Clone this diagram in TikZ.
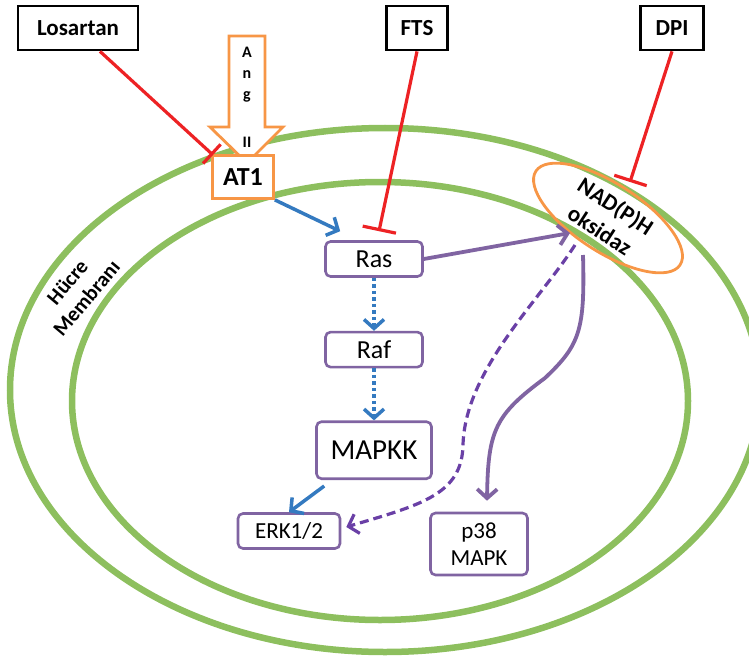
\documentclass[tikz,border=0pt]{standalone}
\usepackage{fontspec}
\setmainfont{Carlito}
\usepackage{xcolor}
\usepackage{tikz}
\usetikzlibrary{positioning, arrows.meta, shapes.geometric}

\definecolor{membgreen}{RGB}{141,191,94}
\definecolor{orng}{RGB}{247,150,70}
\definecolor{prpl}{RGB}{128,100,162}
\definecolor{dprpl}{RGB}{106,64,166}
\definecolor{blu}{RGB}{52,122,192}
\definecolor{inhred}{RGB}{237,34,36}

\begin{document}
\begin{tikzpicture}[
    x=1pt, y=-1pt,
    drug/.style={rectangle, draw, line width=2.8pt, minimum height=44pt, inner sep=2pt, font=\bfseries\fontsize{23}{26}\selectfont},
    receptor/.style={rectangle, draw=orng, fill=white, line width=2.8pt, minimum width=61pt, minimum height=43pt, font=\bfseries\fontsize{26}{30}\selectfont},
    protein/.style={rectangle, rounded corners=5pt, draw=prpl, line width=2.6pt, fill=white, minimum width=97pt, minimum height=35pt, inner sep=1pt, font=\fontsize{26}{30}\selectfont},
    membrane/.style={draw=membgreen, line width=6.5pt},
    inhibit/.style={draw=inhred, line width=3.2pt, -{Bar[width=34pt]}},
    bluearrow/.style={draw=blu, line width=3.5pt, -{Straight Barb[length=9pt,width=20pt]}},
    bluedotted/.style={bluearrow, dash pattern=on 3.5pt off 3pt},
    purplearrow/.style={draw=prpl, line width=3.8pt, -{Straight Barb[length=9pt,width=20pt]}},
    purpledashed/.style={draw=dprpl, line width=3.2pt, dash pattern=on 9pt off 5pt, -{Straight Barb[length=9pt,width=20pt]}}
]
\useasboundingbox (0,0) rectangle (749,658);

% Cell membrane
\draw[membrane] (385,390) ellipse [x radius=375pt, y radius=262pt];
\draw[membrane] (380,401) ellipse [x radius=308pt, y radius=219pt];
\node[rotate=50, align=center, font=\bfseries\fontsize{21}{25}\selectfont] (memb) at (77,290) {Hücre\\Membranı};

% Inhibitors
\node[drug, minimum width=120pt] (losartan) at (78,28) {Losartan};
\node[drug, minimum width=61pt] (fts) at (417,28) {FTS};
\node[drug, minimum width=63pt] (dpi) at (672,28) {DPI};

% Ang II and its receptor
\draw[draw=orng, line width=2.8pt, fill=white] (229,36) -- (265,36) -- (265,127) -- (283,127) -- (247,163) -- (210,127) -- (229,127) -- cycle;
\node[align=center, font=\bfseries\fontsize{16}{21}\selectfont] (angii) at (247,97) {A\\n\\g\\[27pt]II};
\node[receptor] (at1) at (243,177) {AT1};

% Signalling proteins
\node[protein] (ras) at (374,259) {Ras};
\node[protein, below=53pt of ras] (raf) {Raf};
\node[protein, below=52pt of raf, minimum width=115pt, minimum height=57pt, font=\fontsize{29}{32}\selectfont] (mapkk) {MAPKK};
\node[protein, minimum width=102pt, font=\fontsize{23}{26}\selectfont] (erk) at (289,531) {ERK1/2};
\node[protein, minimum height=62pt, align=center, font=\fontsize{23}{27}\selectfont] (p38) at (479,544) {p38\\MAPK};

% NAD(P)H oxidase
\node[ellipse, draw=orng, line width=2.8pt, rotate=-33, minimum width=172pt, minimum height=68pt, inner sep=0pt, align=center, font=\bfseries\fontsize{23}{29}\selectfont] (nadph) at (608,218) {NAD(P)H\\oksidaz};
\coordinate (nadin) at (570,233);
\coordinate (nadout1) at (575,245);
\coordinate (nadout2) at (583,255);

% Inhibition lines
\coordinate (losbar) at (213,155);
\coordinate (dpibar) at (630,182);
\draw[inhibit, -{Bar[width=26pt]}] ([xshift=22pt]losartan.south) -- (losbar);
\draw[inhibit] (fts.south) -- ([xshift=5pt,yshift=9pt]ras.north);
\draw[inhibit] (dpi.south) -- (dpibar);

% Activation arrows
\draw[bluearrow] (at1.south east) -- ([xshift=16pt,yshift=9pt]ras.north west);
\draw[bluedotted] (ras) -- (raf);
\draw[bluedotted] (raf) -- (mapkk);
\draw[bluearrow] ([xshift=9pt,yshift=-6pt]mapkk.south west) -- (erk.north);
\draw[purplearrow] (ras.east) -- (nadin);
\draw[purpledashed] (nadout1) .. controls (540,300) and (465,370) .. (463,445) .. controls (462,495) and (420,505) .. ([xshift=5pt,yshift=4pt]erk.east);
\draw[purplearrow] (nadout2) .. controls (585,330) and (580,345) .. (545,378) .. controls (495,415) and (488,430) .. ([xshift=8pt,yshift=11pt]p38.north);

\end{tikzpicture}
\end{document}
